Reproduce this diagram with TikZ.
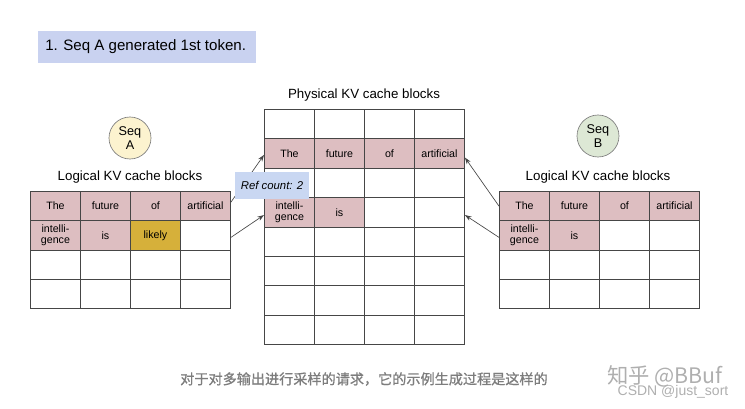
\documentclass[tikz,border=0pt]{standalone}
\usepackage{fontspec}
\setmainfont{Liberation Sans}
\newfontfamily\cjk{Noto Sans CJK SC}
\newfontfamily\cjkb[FakeBold=1]{Noto Sans CJK SC}
\usetikzlibrary{arrows.meta}
\definecolor{pinkc}{RGB}{221,190,193}
\definecolor{goldc}{RGB}{214,176,58}
\definecolor{titlec}{RGB}{201,210,240}
\definecolor{refc}{RGB}{201,215,242}
\definecolor{seqa}{RGB}{252,243,207}
\definecolor{seqb}{RGB}{221,232,213}
\definecolor{linec}{RGB}{70,70,70}
\definecolor{capc}{RGB}{125,125,125}
\definecolor{wmc}{RGB}{175,175,175}
\tikzset{
  cell/.style={draw=linec, line width=0.7pt, minimum width=37.5pt, minimum height=22pt,
    inner sep=0pt, anchor=north west, align=center, font=\fontsize{8}{8.5}\selectfont},
  pcell/.style={cell, minimum height=22.05pt},
  tag/.style={font=\fontsize{10}{12}\selectfont, text=black},
  seq/.style={circle, draw=linec!70, line width=0.5pt, minimum size=31.5pt, inner sep=0pt,
    align=center, font=\fontsize{9.5}{10}\selectfont},
  arr/.style={-{Stealth[length=5pt,width=3.5pt]}, draw=linec, line width=0.5pt}
}
\begin{document}
\begin{tikzpicture}[x=0.75pt,y=-0.75pt]
\useasboundingbox (0,0) rectangle (745,408);
% title
\node[fill=titlec, minimum width=163.5pt, minimum height=24pt, anchor=north west, inner sep=0pt] (title) at (38,31) {};
\node[anchor=west, inner sep=0pt, font=\fontsize{11.3}{13}\selectfont] (titletext) at (45,47) {1. Seq A generated 1st token.};
% seq circles
\node[seq, fill=seqa] (seqA) at (130,138) {Seq\\A};
\node[seq, fill=seqb] (seqB) at (598,136) {Seq\\B};
% labels
\node[tag] (llabA) at (130,177) {Logical KV cache blocks};
\node[tag] (llabB) at (598,177) {Logical KV cache blocks};
\node[tag] (plab) at (364,95) {Physical KV cache blocks};
% left logical grid
\foreach \r in {0,...,3} \foreach \c in {0,...,3}
  \node[cell] (L\r\c) at ({30+50*\c},{191+29.25*\r}) {};
\node[cell, fill=pinkc] (LA0) at (L00.north west) {The};
\node[cell, fill=pinkc] (LA1) at (L01.north west) {future};
\node[cell, fill=pinkc] (LA2) at (L02.north west) {of};
\node[cell, fill=pinkc] (LA3) at (L03.north west) {artificial};
\node[cell, fill=pinkc] (LB0) at (L10.north west) {intelli-\\gence};
\node[cell, fill=pinkc] (LB1) at (L11.north west) {is};
\node[cell, fill=goldc] (LB2) at (L12.north west) {likely};
% right logical grid
\foreach \r in {0,...,3} \foreach \c in {0,...,3}
  \node[cell] (R\r\c) at ({499+50*\c},{191+29.25*\r}) {};
\node[cell, fill=pinkc] (RA0) at (R00.north west) {The};
\node[cell, fill=pinkc] (RA1) at (R01.north west) {future};
\node[cell, fill=pinkc] (RA2) at (R02.north west) {of};
\node[cell, fill=pinkc] (RA3) at (R03.north west) {artificial};
\node[cell, fill=pinkc] (RB0) at (R10.north west) {intelli-\\gence};
\node[cell, fill=pinkc] (RB1) at (R11.north west) {is};
% physical grid
\foreach \r in {0,...,7} \foreach \c in {0,...,3}
  \node[pcell] (P\r\c) at ({264+50*\c},{109+29.4*\r}) {};
\node[pcell, fill=pinkc] (PA0) at (P10.north west) {The};
\node[pcell, fill=pinkc] (PA1) at (P11.north west) {future};
\node[pcell, fill=pinkc] (PA2) at (P12.north west) {of};
\node[pcell, fill=pinkc] (PA3) at (P13.north west) {artificial};
\node[pcell, fill=pinkc] (PB0) at (P30.north west) {intelli-\\gence};
\node[pcell, fill=pinkc] (PB1) at (P31.north west) {is};
% arrows
\draw[arr] ([yshift=3pt]LA3.east) -- ([yshift=-1pt]PA0.west);
\draw[arr] ([yshift=-1.5pt]LB2.east -| L13.east) -- ([yshift=-2pt]PB0.west);
\draw[arr] (RA0.west) -- ([yshift=-3pt]PA3.east);
\draw[arr] ([yshift=-1.5pt]RB0.west) -- ([yshift=-2pt]PB0.west -| P33.east);
% ref count
\node[fill=refc, minimum width=55.5pt, minimum height=20pt, inner sep=0pt,
  font=\fontsize{8.5}{10}\selectfont\itshape] (ref) at (272,185.5) {Ref count: 2};
% caption & watermark
\node[text=capc, inner sep=0pt, font=\cjkb\fontsize{10.6}{11}\selectfont] (cap) at (364,379) {对于对多输出进行采样的请求，它的示例生成过程是这样的};
\node[text=wmc, inner sep=0pt, font=\cjk\fontsize{16}{17}\selectfont] (wm1) at (665,376) {知乎 @BBuf};
\node[text=wmc, inner sep=0pt, font=\fontsize{10.5}{11}\selectfont] (wm2) at (673,392) {CSDN @just\_sort};
\end{tikzpicture}
\end{document}
